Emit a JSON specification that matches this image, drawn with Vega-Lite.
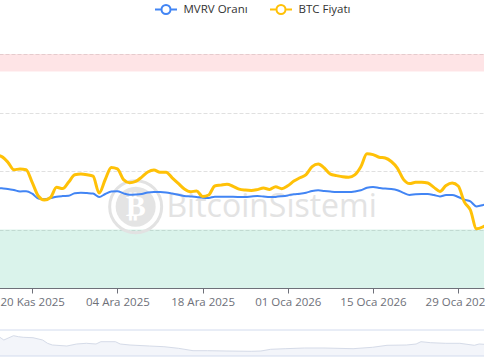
{
  "$schema": "https://vega.github.io/schema/vega-lite/v6.json",
  "background": "white",
  "padding": {"top": 3, "left": -3, "right": 0, "bottom": 0},
  "spacing": 42,
  "bounds": "flush",
  "config": {"view": {"stroke": null}, "font": "Open Sans", "axis": {"minExtent": 0}},
  "datasets": {
    "seri": [
      {"tarih": "2025-11-14T00:00:00", "mvrv": 1.712, "btc": 94100},
      {"tarih": "2025-11-15T00:00:00", "mvrv": 1.704, "btc": 93670},
      {"tarih": "2025-11-16T00:00:00", "mvrv": 1.694, "btc": 92260},
      {"tarih": "2025-11-17T00:00:00", "mvrv": 1.675, "btc": 90310},
      {"tarih": "2025-11-18T00:00:00", "mvrv": 1.650, "btc": 90510},
      {"tarih": "2025-11-19T00:00:00", "mvrv": 1.655, "btc": 90330},
      {"tarih": "2025-11-20T00:00:00", "mvrv": 1.612, "btc": 87080},
      {"tarih": "2025-11-21T00:00:00", "mvrv": 1.530, "btc": 83590},
      {"tarih": "2025-11-22T00:00:00", "mvrv": 1.518, "btc": 82560},
      {"tarih": "2025-11-23T00:00:00", "mvrv": 1.537, "btc": 83210},
      {"tarih": "2025-11-24T00:00:00", "mvrv": 1.561, "btc": 85820},
      {"tarih": "2025-11-25T00:00:00", "mvrv": 1.571, "btc": 85490},
      {"tarih": "2025-11-26T00:00:00", "mvrv": 1.576, "btc": 87180},
      {"tarih": "2025-11-27T00:00:00", "mvrv": 1.621, "btc": 89030},
      {"tarih": "2025-11-28T00:00:00", "mvrv": 1.627, "btc": 89210},
      {"tarih": "2025-11-29T00:00:00", "mvrv": 1.622, "btc": 89030},
      {"tarih": "2025-11-30T00:00:00", "mvrv": 1.614, "btc": 88670},
      {"tarih": "2025-12-01T00:00:00", "mvrv": 1.556, "btc": 84360},
      {"tarih": "2025-12-02T00:00:00", "mvrv": 1.607, "btc": 87820},
      {"tarih": "2025-12-03T00:00:00", "mvrv": 1.651, "btc": 90920},
      {"tarih": "2025-12-04T00:00:00", "mvrv": 1.653, "btc": 90540},
      {"tarih": "2025-12-05T00:00:00", "mvrv": 1.617, "btc": 87800},
      {"tarih": "2025-12-06T00:00:00", "mvrv": 1.593, "btc": 87000},
      {"tarih": "2025-12-07T00:00:00", "mvrv": 1.597, "btc": 87330},
      {"tarih": "2025-12-08T00:00:00", "mvrv": 1.607, "btc": 88440},
      {"tarih": "2025-12-09T00:00:00", "mvrv": 1.632, "btc": 89740},
      {"tarih": "2025-12-10T00:00:00", "mvrv": 1.639, "btc": 90260},
      {"tarih": "2025-12-11T00:00:00", "mvrv": 1.639, "btc": 89670},
      {"tarih": "2025-12-12T00:00:00", "mvrv": 1.631, "btc": 89670},
      {"tarih": "2025-12-13T00:00:00", "mvrv": 1.614, "btc": 88260},
      {"tarih": "2025-12-14T00:00:00", "mvrv": 1.595, "btc": 86820},
      {"tarih": "2025-12-15T00:00:00", "mvrv": 1.574, "btc": 85380},
      {"tarih": "2025-12-16T00:00:00", "mvrv": 1.566, "btc": 84670},
      {"tarih": "2025-12-17T00:00:00", "mvrv": 1.557, "btc": 84870},
      {"tarih": "2025-12-18T00:00:00", "mvrv": 1.544, "btc": 83460},
      {"tarih": "2025-12-19T00:00:00", "mvrv": 1.540, "btc": 83850},
      {"tarih": "2025-12-20T00:00:00", "mvrv": 1.561, "btc": 86150},
      {"tarih": "2025-12-21T00:00:00", "mvrv": 1.561, "btc": 86380},
      {"tarih": "2025-12-22T00:00:00", "mvrv": 1.561, "btc": 86590},
      {"tarih": "2025-12-23T00:00:00", "mvrv": 1.559, "btc": 86080},
      {"tarih": "2025-12-24T00:00:00", "mvrv": 1.557, "btc": 85360},
      {"tarih": "2025-12-25T00:00:00", "mvrv": 1.556, "btc": 85100},
      {"tarih": "2025-12-26T00:00:00", "mvrv": 1.564, "btc": 85000},
      {"tarih": "2025-12-27T00:00:00", "mvrv": 1.571, "btc": 85230},
      {"tarih": "2025-12-28T00:00:00", "mvrv": 1.564, "btc": 85620},
      {"tarih": "2025-12-29T00:00:00", "mvrv": 1.554, "btc": 85280},
      {"tarih": "2025-12-30T00:00:00", "mvrv": 1.557, "btc": 85950},
      {"tarih": "2025-12-31T00:00:00", "mvrv": 1.568, "btc": 85460},
      {"tarih": "2026-01-01T00:00:00", "mvrv": 1.583, "btc": 86210},
      {"tarih": "2026-01-02T00:00:00", "mvrv": 1.603, "btc": 87410},
      {"tarih": "2026-01-03T00:00:00", "mvrv": 1.612, "btc": 88280},
      {"tarih": "2026-01-04T00:00:00", "mvrv": 1.629, "btc": 89080},
      {"tarih": "2026-01-05T00:00:00", "mvrv": 1.658, "btc": 91130},
      {"tarih": "2026-01-06T00:00:00", "mvrv": 1.670, "btc": 91800},
      {"tarih": "2026-01-07T00:00:00", "mvrv": 1.658, "btc": 90770},
      {"tarih": "2026-01-08T00:00:00", "mvrv": 1.648, "btc": 89180},
      {"tarih": "2026-01-09T00:00:00", "mvrv": 1.641, "btc": 88820},
      {"tarih": "2026-01-10T00:00:00", "mvrv": 1.641, "btc": 88510},
      {"tarih": "2026-01-11T00:00:00", "mvrv": 1.641, "btc": 88380},
      {"tarih": "2026-01-12T00:00:00", "mvrv": 1.650, "btc": 89000},
      {"tarih": "2026-01-13T00:00:00", "mvrv": 1.670, "btc": 91080},
      {"tarih": "2026-01-14T00:00:00", "mvrv": 1.713, "btc": 94400},
      {"tarih": "2026-01-15T00:00:00", "mvrv": 1.725, "btc": 94200},
      {"tarih": "2026-01-16T00:00:00", "mvrv": 1.711, "btc": 93540},
      {"tarih": "2026-01-17T00:00:00", "mvrv": 1.699, "btc": 93330},
      {"tarih": "2026-01-18T00:00:00", "mvrv": 1.692, "btc": 92440},
      {"tarih": "2026-01-19T00:00:00", "mvrv": 1.672, "btc": 90740},
      {"tarih": "2026-01-20T00:00:00", "mvrv": 1.626, "btc": 87850},
      {"tarih": "2026-01-21T00:00:00", "mvrv": 1.590, "btc": 86770},
      {"tarih": "2026-01-22T00:00:00", "mvrv": 1.602, "btc": 87100},
      {"tarih": "2026-01-23T00:00:00", "mvrv": 1.607, "btc": 87130},
      {"tarih": "2026-01-24T00:00:00", "mvrv": 1.607, "btc": 86920},
      {"tarih": "2026-01-25T00:00:00", "mvrv": 1.590, "btc": 85800},
      {"tarih": "2026-01-26T00:00:00", "mvrv": 1.566, "btc": 84770},
      {"tarih": "2026-01-27T00:00:00", "mvrv": 1.590, "btc": 86280},
      {"tarih": "2026-01-28T00:00:00", "mvrv": 1.590, "btc": 86920},
      {"tarih": "2026-01-29T00:00:00", "mvrv": 1.556, "btc": 86150},
      {"tarih": "2026-01-30T00:00:00", "mvrv": 1.511, "btc": 82100},
      {"tarih": "2026-01-31T00:00:00", "mvrv": 1.480, "btc": 80000},
      {"tarih": "2026-02-01T00:00:00", "mvrv": 1.395, "btc": 75180},
      {"tarih": "2026-02-02T00:00:00", "mvrv": 1.415, "btc": 75640},
      {"tarih": "2026-02-03T00:00:00", "mvrv": 1.453, "btc": 76670}
    ],
    "kaydirici": [
      {"i": 0, "v": 19.3}, {"i": 1, "v": 16.0}, {"i": 3, "v": 20.3}, {"i": 4, "v": 19.3},
      {"i": 5, "v": 18.7}, {"i": 7, "v": 18.3}, {"i": 9, "v": 16.0}, {"i": 10, "v": 12.7},
      {"i": 11, "v": 11.0}, {"i": 14, "v": 10.0}, {"i": 16, "v": 12.0}, {"i": 18, "v": 12.7},
      {"i": 20, "v": 12.0}, {"i": 21, "v": 14.3}, {"i": 24, "v": 14.3}, {"i": 25, "v": 12.0},
      {"i": 27, "v": 11.0}, {"i": 31, "v": 10.0}, {"i": 34, "v": 9.3}, {"i": 37, "v": 7.7},
      {"i": 40, "v": 5.3}, {"i": 43, "v": 5.3}, {"i": 47, "v": 5.0}, {"i": 52, "v": 4.7},
      {"i": 54, "v": 5.0}, {"i": 56, "v": 6.7}, {"i": 59, "v": 7.3}, {"i": 63, "v": 8.0},
      {"i": 67, "v": 8.0}, {"i": 73, "v": 7.3}, {"i": 77, "v": 8.7}, {"i": 80, "v": 10.7},
      {"i": 84, "v": 11.0}, {"i": 86, "v": 12.0}, {"i": 87, "v": 14.3}, {"i": 89, "v": 13.3},
      {"i": 92, "v": 12.7}, {"i": 95, "v": 12.7}, {"i": 98, "v": 10.7}, {"i": 99, "v": 12.0},
      {"i": 100, "v": 11.7}
    ]
  },
  "vconcat": [
    {
      "width": 485,
      "height": 234,
      "layer": [
        {
          "data": {"values": [{}]},
          "mark": {"type": "rect", "color": "#f87a82", "opacity": 0.2},
          "encoding": {
            "y": {"datum": 3.7, "type": "quantitative", "scale": {"domain": [0, 4], "nice": false}, "axis": null},
            "y2": {"datum": 4}
          }
        },
        {
          "data": {"values": [{}]},
          "mark": {"type": "rect", "color": "#46c39b", "opacity": 0.2},
          "encoding": {
            "y": {"datum": 0, "type": "quantitative", "scale": {"domain": [0, 4], "nice": false}, "axis": null},
            "y2": {"datum": 1}
          }
        },
        {
          "data": {"values": [{}]},
          "mark": {"type": "point", "shape": "circle", "filled": false, "stroke": "#e2e2e2", "strokeWidth": 3, "size": 2704, "opacity": 1},
          "encoding": {
            "x": {"datum": {"year": 2025, "month": 12, "date": 7, "hours": 0}, "type": "temporal"},
            "y": {"datum": 1.39, "type": "quantitative", "scale": {"domain": [0, 4], "nice": false}, "axis": null}
          }
        },
        {
          "data": {"values": [{}]},
          "mark": {"type": "point", "shape": "circle", "filled": true, "fill": "#e4e4e4", "size": 1600, "opacity": 1},
          "encoding": {
            "x": {"datum": {"year": 2025, "month": 12, "date": 7, "hours": 0}, "type": "temporal"},
            "y": {"datum": 1.39, "type": "quantitative", "scale": {"domain": [0, 4], "nice": false}, "axis": null}
          }
        },
        {
          "data": {"values": [{}]},
          "mark": {"type": "text", "text": "₿", "font": "DejaVu Sans", "fontSize": 30, "fontWeight": "bold", "color": "white", "baseline": "middle", "align": "center"},
          "encoding": {
            "x": {"datum": {"year": 2025, "month": 12, "date": 7, "hours": 0}, "type": "temporal"},
            "y": {"datum": 1.39, "type": "quantitative", "scale": {"domain": [0, 4], "nice": false}, "axis": null}
          }
        },
        {
          "data": {"values": [{}]},
          "mark": {"type": "text", "text": "BitcoinSistemi", "font": "Open Sans", "fontSize": 32, "color": "#e3e3e3", "baseline": "alphabetic", "align": "center"},
          "encoding": {
            "x": {"datum": {"year": 2025, "month": 12, "date": 29, "hours": 8}, "type": "temporal"},
            "y": {"datum": 1.219, "type": "quantitative", "scale": {"domain": [0, 4], "nice": false}, "axis": null}
          }
        },
        {
          "data": {"name": "seri"},
          "mark": {"type": "line", "interpolate": "monotone", "strokeWidth": 2, "clip": true},
          "encoding": {
            "x": {
              "field": "tarih", "type": "temporal",
              "scale": {"domain": [{"year": 2025, "month": 11, "date": 14, "hours": 13, "minutes": 5}, {"year": 2026, "month": 2, "date": 2, "hours": 5, "minutes": 40}], "nice": false},
              "axis": {
                "title": null, "grid": false,
                "values": [
                  {"year": 2025, "month": 11, "date": 20},
                  {"year": 2025, "month": 12, "date": 4},
                  {"year": 2025, "month": 12, "date": 18},
                  {"year": 2026, "month": 1, "date": 1},
                  {"year": 2026, "month": 1, "date": 15},
                  {"year": 2026, "month": 1, "date": 29}
                ],
                "labelExpr": "timeFormat(datum.value, '%d') + ' ' + ['Oca','Şub','Mar','Nis','May','Haz','Tem','Ağu','Eyl','Eki','Kas','Ara'][month(datum.value)] + ' ' + timeFormat(datum.value, '%Y')",
                "domainColor": "#6E7079", "tickColor": "#6E7079", "labelColor": "#6E7079",
                "labelFont": "Open Sans", "labelFontSize": 11.5, "tickSize": 5, "labelPadding": 3,
                "labelFlush": false, "labelOverlap": false, "labelBound": false
              }
            },
            "y": {
              "field": "mvrv", "type": "quantitative",
              "scale": {"domain": [0, 4], "nice": false},
              "axis": {"title": null, "grid": true, "labels": false, "ticks": false, "domain": false, "values": [1, 2, 3, 4], "gridColor": "#e0e0e0", "gridDash": [4, 2], "gridWidth": 1, "minExtent": 0, "maxExtent": 0, "labelPadding": 0, "offset": 0}
            },
            "color": {
              "datum": "MVRV Oranı", "type": "nominal",
              "scale": {"domain": ["MVRV Oranı", "BTC Fiyatı"], "range": ["#4285f4", "#ffc107"]},
              "legend": {
                "title": null, "orient": "none", "legendX": 160.5, "legendY": -51, "direction": "horizontal",
                "symbolType": "M-2,0L-0.818,0M0.818,0L2,0M0.818,0A0.818,0.818,0,1,1,-0.818,0A0.818,0.818,0,1,1,0.818,0Z",
                "symbolSize": 121, "symbolStrokeWidth": 2, "symbolFillColor": "white",
                "labelFont": "Open Sans", "labelFontSize": 11.5, "labelColor": "#333333", "labelOffset": 11,
                "columnPadding": 17, "padding": 0
              }
            }
          }
        },
        {
          "data": {"name": "seri"},
          "mark": {"type": "line", "interpolate": "monotone", "strokeWidth": 3, "clip": true},
          "encoding": {
            "x": {"field": "tarih", "type": "temporal"},
            "y": {"field": "btc", "type": "quantitative", "scale": {"domain": [60000, 120000], "nice": false, "zero": false}, "axis": null},
            "color": {"datum": "BTC Fiyatı", "type": "nominal"}
          }
        }
      ],
      "resolve": {"scale": {"y": "independent"}}
    },
    {
      "width": 485,
      "height": 26,
      "layer": [
        {
          "data": {"name": "kaydirici"},
          "mark": {"type": "area", "color": "#eef1f8", "line": {"color": "#d5dbe8", "strokeWidth": 1}},
          "encoding": {
            "x": {"field": "i", "type": "quantitative", "scale": {"domain": [0, 100], "nice": false}, "axis": null},
            "y": {"field": "v", "type": "quantitative", "scale": {"domain": [0, 26], "nice": false}, "axis": null}
          }
        },
        {
          "data": {"values": [{"v": 0}, {"v": 26}]},
          "mark": {"type": "rule", "color": "#d2dbee", "strokeWidth": 1},
          "encoding": {
            "y": {"field": "v", "type": "quantitative"}
          }
        }
      ]
    }
  ]
}
